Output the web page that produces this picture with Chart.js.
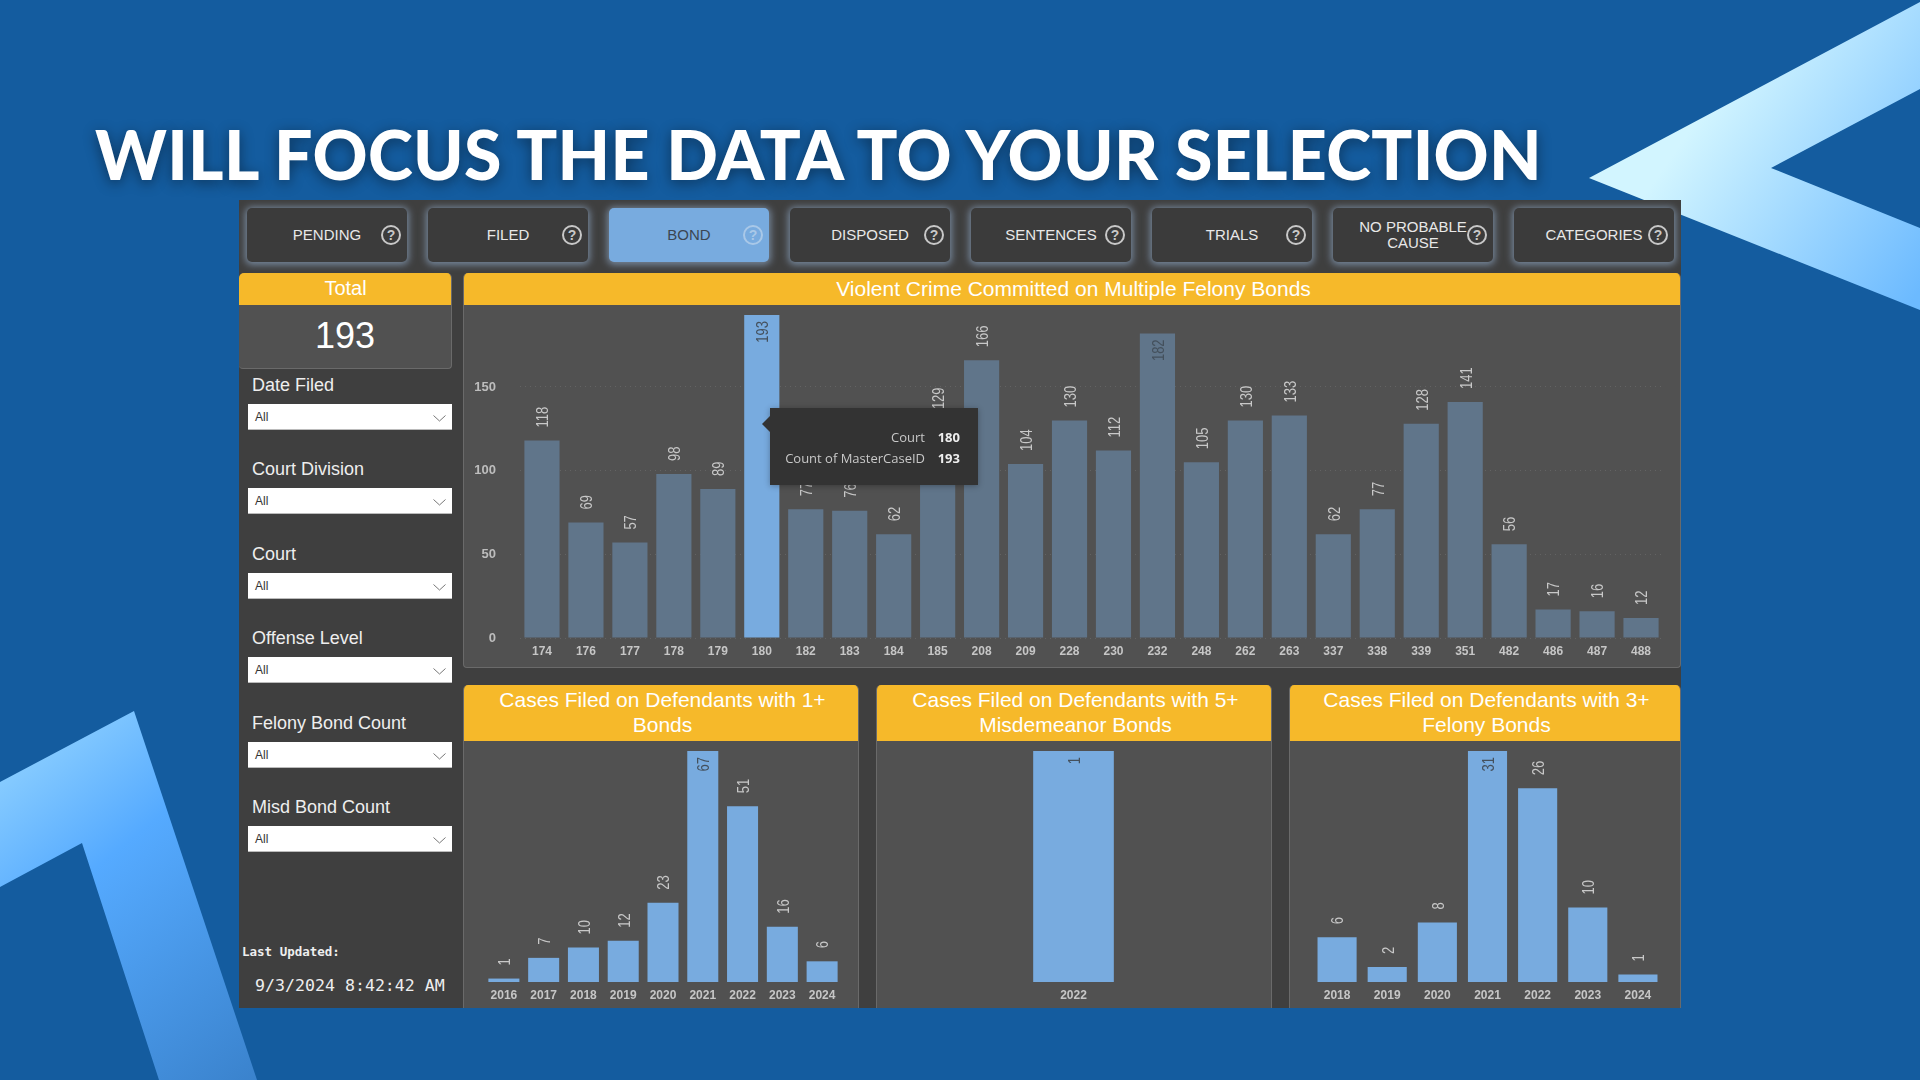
<!DOCTYPE html>
<html lang="en">
<head>
<meta charset="UTF-8">
<title>Will Focus The Data To Your Selection</title>
<script src="https://cdn.jsdelivr.net/npm/chart.js"></script>
<style>
    html, body { margin: 0; padding: 0; }
    body {
        width: 1920px; height: 1080px; position: relative; overflow: hidden;
        background: #145c9f;
        font-family: 'Liberation Sans', Arial, sans-serif;
    }
    .deco { position: absolute; left: 0; top: 0; }
    h1 {
        position: absolute; left: 95px; top: 112px; margin: 0;
        font: 900 68px/84px Lato, sans-serif; color: #fff; white-space: nowrap; letter-spacing: 0.3px;
        text-shadow: 0 3px 14px rgba(0, 0, 0, 0.45);
    }
    .dash {
        position: absolute; left: 239px; top: 200px; width: 1442px; height: 808px;
        background: #3f3f3f; overflow: hidden;
    }
    .btn {
        position: absolute; top: 8px; width: 160px; height: 54px; border-radius: 5px;
        background: #3b3b3b; color: #e8e8e8; font-size: 15px; line-height: 16px;
        display: flex; align-items: center; justify-content: center; text-align: center;
        box-shadow: 0 1px 7px 2px #75869a;
    }
    .btn.on { background: #78abdf; color: #3b4653; }
    .btn .q {
        position: absolute; right: 6px; top: 17px; width: 16px; height: 16px; border: 2px solid #c8c8c8;
        border-radius: 50%; font-size: 14px; font-weight: bold; line-height: 16px; color: #c8c8c8;
    }
    .btn.on .q { border-color: #a9c8e8; color: #a9c8e8; }
    .panel {
        position: absolute; background: #515151; border: 1px solid #6a6a6a; border-top: 0;
        border-radius: 5px 5px 4px 4px; box-sizing: border-box; overflow: hidden;
    }
    .head {
        background: #f6b92a; color: #fff; font-size: 21px; line-height: 25px; text-align: center;
        display: flex; align-items: center; justify-content: center; padding-left: 3px; padding-bottom: 2px;
        box-sizing: border-box;
    }
    .panel canvas { position: absolute; left: 0; }
    .big { text-align: center; color: #fff; font-size: 36px; line-height: 62px; }
    .slab { position: absolute; left: 13px; color: #eee; font-size: 18px; line-height: 22px; }
    .drop {
        position: absolute; left: 9px; width: 204px; height: 26px; background: #fff; border-bottom: 1px solid #bbb;
        box-sizing: border-box; padding-left: 7px; color: #333; font-size: 12px; line-height: 27px;
    }
    .drop svg { position: absolute; right: 6px; top: 11px; }
    .mono { position: absolute; font-family: 'DejaVu Sans Mono', monospace; color: #eee; white-space: pre; }
    .tip {
        position: absolute; left: 531px; top: 208px; width: 208px; height: 77px; background: #333333;
        box-shadow: 0 1px 6px rgba(0, 0, 0, 0.3); color: #c8c8c8;
        font: 13px/21px 'Open Sans', sans-serif;
    }
    .tip:before {
        content: ''; position: absolute; left: -8px; top: 8px;
        border: 8px solid transparent; border-left: 0; border-right-color: #333333;
    }
    .tip span { position: absolute; right: 53px; white-space: nowrap; }
    .tip b { position: absolute; right: 18px; color: #eee; }
</style>
</head>
<body>
<svg class="deco" width="1920" height="1080">
    <defs>
        <linearGradient id="g1" gradientUnits="userSpaceOnUse" x1="1690" y1="130" x2="1920" y2="290">
            <stop offset="0" stop-color="#d2f5ff"/><stop offset="1" stop-color="#6cbaff"/>
        </linearGradient>
        <linearGradient id="g2" gradientUnits="userSpaceOnUse" x1="0" y1="760" x2="260" y2="1080">
            <stop offset="0" stop-color="#8ccfff"/><stop offset="0.35" stop-color="#55aaff"/><stop offset="1" stop-color="#3a82cc"/>
        </linearGradient>
    </defs>
    <polygon fill="url(#g1)" points="1589,178 1920,2 1920,89 1771,168 1920,228 1920,310"/>
    <polygon fill="url(#g2)" points="0,782 134,711 257,1080 159,1080 82,843 0,887"/>
</svg>
<h1>WILL FOCUS THE DATA TO YOUR SELECTION</h1>

<div class="dash" id="dash">
    <div class="panel" style="left:0;top:73px;width:213px;height:96px;border-left:0">
        <div class="head" style="height:32px;font-size:20px;padding-left:1px">Total</div>
        <div class="big" id="total"></div>
    </div>
    <div class="panel" style="left:224px;top:73px;width:1218px;height:395px">
        <div class="head" style="height:32px">Violent Crime Committed on Multiple Felony Bonds</div>
        <canvas id="courtChart" width="1217" height="363" style="top:32px"></canvas>
    </div>
    <div class="panel" style="left:224px;top:485px;width:396px;height:330px">
        <div class="head" style="height:56px">Cases Filed on Defendants with 1+<br>Bonds</div>
        <canvas id="anyBondChart" width="396" height="267" style="top:56px"></canvas>
    </div>
    <div class="panel" style="left:637px;top:485px;width:396px;height:330px">
        <div class="head" style="height:56px">Cases Filed on Defendants with 5+<br>Misdemeanor Bonds</div>
        <canvas id="misdChart" width="396" height="267" style="top:56px"></canvas>
    </div>
    <div class="panel" style="left:1050px;top:485px;width:392px;height:330px">
        <div class="head" style="height:56px">Cases Filed on Defendants with 3+<br>Felony Bonds</div>
        <canvas id="felonyChart" width="392" height="267" style="top:56px"></canvas>
    </div>
    <div class="tip" id="tip"></div>
    <div class="mono" style="left:3px;top:744px;font-size:12.5px;line-height:15px;font-weight:bold">Last Updated:</div>
    <div class="mono" style="left:16px;top:776px;font-size:16.6px;line-height:20px">9/3/2024 8:42:42 AM</div>
</div>

<script>
    // tabs and slicers
    const tabs = ['PENDING', 'FILED', 'BOND', 'DISPOSED', 'SENTENCES', 'TRIALS', 'NO PROBABLE<br>CAUSE', 'CATEGORIES'];
    const slicers = ['Date Filed', 'Court Division', 'Court', 'Offense Level', 'Felony Bond Count', 'Misd Bond Count'];

    // main chart
    const courts = ['174', '176', '177', '178', '179', '180', '182', '183', '184', '185', '208', '209', '228',
        '230', '232', '248', '262', '263', '337', '338', '339', '351', '482', '486', '487', '488'];
    const courtCases = [118, 69, 57, 98, 89, 193, 77, 76, 62, 129, 166, 104, 130,
        112, 182, 105, 130, 133, 62, 77, 128, 141, 56, 17, 16, 12];
    const courtTicks = [0, 50, 100, 150];
    const selectedCourt = '180';

    // small charts
    const anyBondYears = ['2016', '2017', '2018', '2019', '2020', '2021', '2022', '2023', '2024'];
    const anyBondCases = [1, 7, 10, 12, 23, 67, 51, 16, 6];
    const misdYears = ['2022'];
    const misdCases = [1];
    const felonyYears = ['2018', '2019', '2020', '2021', '2022', '2023', '2024'];
    const felonyCases = [6, 2, 8, 31, 26, 10, 1];

    const BLUE = '#78abdf';
    const DIM = '#60758a';
    const LABEL_GAP = 13;

    const dash = document.getElementById('dash');
    tabs.forEach((t, i) => {
        const b = document.createElement('div');
        b.className = 'btn' + (t === 'BOND' ? ' on' : '');
        b.style.left = (8 + 181 * i) + 'px';
        b.innerHTML = t + '<span class="q">?</span>';
        dash.appendChild(b);
    });
    slicers.forEach((s, i) => {
        const top = Math.round(174 + 84.4 * i);
        const l = document.createElement('div');
        l.className = 'slab';
        l.style.top = top + 'px';
        l.textContent = s;
        dash.appendChild(l);
        const d = document.createElement('div');
        d.className = 'drop';
        d.style.top = (top + 30) + 'px';
        d.innerHTML = 'All<svg width="13" height="7"><polyline points="0.5,0.5 6.5,6 12.5,0.5" fill="none" stroke="#777"/></svg>';
        dash.appendChild(d);
    });

    const selIdx = courts.indexOf(selectedCourt);
    document.getElementById('total').textContent = courtCases[selIdx];
    document.getElementById('tip').innerHTML =
        '<span style="top:19px">Court</span><b style="top:19px">' + courts[selIdx] + '</b>' +
        '<span style="top:40px">Count of MasterCaseID</span><b style="top:40px">' + courtCases[selIdx] + '</b>';

    // rotated value labels, pushed inside the bar when they would not fit above it
    const valueLabels = {
        id: 'valueLabels',
        afterDatasetsDraw(chart) {
            const ctx = chart.ctx;
            const values = chart.data.datasets[0].data;
            chart.getDatasetMeta(0).data.forEach((bar, i) => {
                const text = String(values[i]);
                ctx.save();
                ctx.font = '13px "Liberation Sans", Arial, sans-serif';
                const len = ctx.measureText(text).width;
                const inside = bar.y - LABEL_GAP - len < 0;
                ctx.translate(bar.x, inside ? bar.y + 6 : bar.y - LABEL_GAP);
                ctx.rotate(-Math.PI / 2);
                ctx.scale(1, 1.25);
                ctx.textBaseline = 'middle';
                ctx.textAlign = inside ? 'right' : 'left';
                ctx.fillStyle = inside ? '#44505c' : '#c8c8c8';
                ctx.fillText(text, 0, 1.5);
                ctx.restore();
            });
        }
    };

    function barChart(id, labels, values, opts) {
        return new Chart(document.getElementById(id), {
            type: 'bar',
            data: {
                labels: labels,
                datasets: [{
                    data: values,
                    backgroundColor: opts.colors || BLUE,
                    categoryPercentage: 1,
                    barPercentage: opts.barPct,
                    barThickness: opts.barThickness
                }]
            },
            options: {
                responsive: false,
                animation: false,
                events: [],
                layout: { padding: opts.padding },
                plugins: { legend: { display: false }, tooltip: { enabled: false } },
                scales: {
                    x: {
                        grid: { display: false },
                        border: { display: false },
                        afterFit: s => { s.height = opts.axisHeight; },
                        ticks: {
                            color: '#c6c6c6', font: { size: 12, weight: 'bold', family: 'Liberation Sans' },
                            padding: -2, maxRotation: 0, autoSkip: false
                        }
                    },
                    y: opts.yTicks ? {
                        min: 0,
                        max: Math.max(...values),
                        afterBuildTicks: s => { s.ticks = opts.yTicks.map(v => ({ value: v })); },
                        afterFit: s => { s.width = opts.padWidth; s.paddingTop = 0; s.paddingBottom = 0; },
                        grid: { color: '#636363', drawTicks: false },
                        border: { display: false, dash: [1, 4] },
                        ticks: {
                            color: '#bdbdbd', font: { size: 13, weight: 'bold', family: 'Liberation Sans' },
                            padding: 24
                        }
                    } : { display: false, min: 0, max: Math.max(...values) }
                }
            },
            plugins: [valueLabels]
        });
    }

    barChart('courtChart', courts, courtCases, {
        colors: courts.map(c => c === selectedCourt ? BLUE : DIM),
        barPct: 0.8, yTicks: courtTicks, padWidth: 56, axisHeight: 30,
        padding: { top: 10, right: 18, left: 0, bottom: 0 }
    });
    barChart('anyBondChart', anyBondYears, anyBondCases, {
        barPct: 0.78, axisHeight: 26, padding: { top: 10, left: 20, right: 18, bottom: 0 }
    });
    barChart('misdChart', misdYears, misdCases, {
        barThickness: 80, axisHeight: 26, padding: { top: 10, left: 0, right: 3, bottom: 0 }
    });
    barChart('felonyChart', felonyYears, felonyCases, {
        barPct: 0.78, axisHeight: 26, padding: { top: 10, left: 22, right: 19, bottom: 0 }
    });
</script>
</body>
</html>
